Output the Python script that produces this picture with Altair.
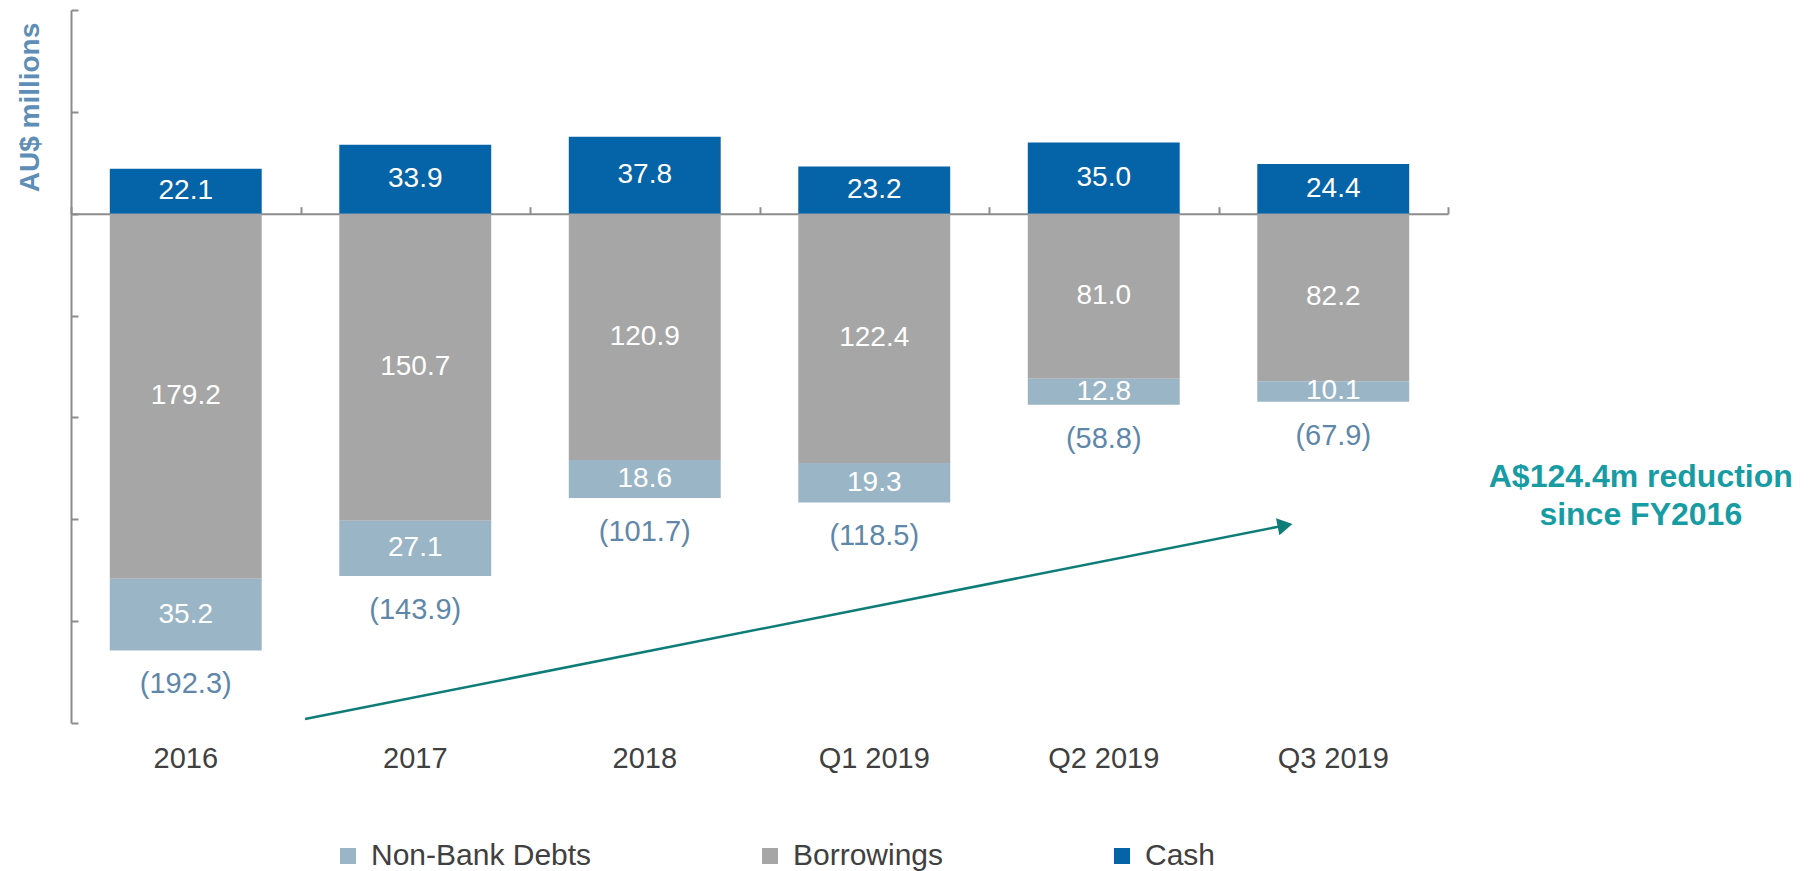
import altair as alt
import pandas as pd

categories = ["2016", "2017", "2018", "Q1 2019", "Q2 2019", "Q3 2019"]
cash = [22.1, 33.9, 37.8, 23.2, 35.0, 24.4]
borrowings = [179.2, 150.7, 120.9, 122.4, 81.0, 82.2]
non_bank = [35.2, 27.1, 18.6, 19.3, 12.8, 10.1]
net_debt = [192.3, 143.9, 101.7, 118.5, 58.8, 67.9]
series = ["Non-Bank Debts", "Borrowings", "Cash"]
colors = ["#9AB5C6", "#A6A6A6", "#0563A8"]
y_ticks = [-250, -200, -150, -100, -50, 0, 50, 100]

# annotation arrow: x in category slots from the left edge, y in AU$ millions
arrow_x = [1.02, 5.29]
arrow_y = [-248.0, -153.0]
note_lines = ["A$124.4m reduction", "since FY2016"]
note_x = [6.84, 6.84]
note_y = [-129.0, -148.0]

FONT = "Liberation Sans, Arial, sans-serif"
W, H = 1377, 713
Y_MIN, Y_MAX = -250, 100
zero_offset = -H * Y_MAX / (Y_MAX - Y_MIN)

rows = []
for i, c in enumerate(categories):
    rows.append({"category": c, "series": "Cash", "y0": 0.0, "y1": cash[i], "label": f"{cash[i]:.1f}"})
    rows.append({"category": c, "series": "Borrowings", "y0": 0.0, "y1": -borrowings[i], "label": f"{borrowings[i]:.1f}"})
    rows.append({"category": c, "series": "Non-Bank Debts", "y0": -borrowings[i],
                 "y1": -borrowings[i] - non_bank[i], "label": f"{non_bank[i]:.1f}"})
seg = pd.DataFrame(rows)
seg["mid"] = (seg["y0"] + seg["y1"]) / 2

tot = pd.DataFrame({
    "category": categories,
    "bottom": [-(b + n) for b, n in zip(borrowings, non_bank)],
    "label": [f"({v:.1f})" for v in net_debt],
})

arrow_df = pd.DataFrame({"x": [arrow_x[0]], "y": [arrow_y[0]], "x2": [arrow_x[1]], "y2": [arrow_y[1]]})
head_df = pd.DataFrame({"x": [arrow_x[1]], "y": [arrow_y[1]]})
note_df = pd.DataFrame({"x": note_x, "y": note_y, "text": note_lines})

yscale = alt.Scale(domain=[Y_MIN, Y_MAX], nice=False, zero=False)


def y_axis():
    # right-oriented axis moved onto the left edge so that its ticks point into the plot
    return alt.Axis(orient="right", offset=-W, title="AU$ millions", values=y_ticks, labels=False,
                    grid=False, domainColor="#8C8C8C", tickColor="#8C8C8C", domainWidth=2,
                    tickWidth=2, tickSize=7, titleAngle=270, titleX=-41, titleY=97,
                    titleFont=FONT, titleFontSize=28, titleFontWeight="bold",
                    titleColor="#5E8DB5", titleAlign="center", titleBaseline="middle")


def band():
    return alt.Scale(domain=categories, paddingInner=0, paddingOuter=0)


qscale = alt.Scale(domain=[0, 6], nice=False, zero=False)

bars = alt.Chart(seg).mark_bar(width=alt.RelativeBandSize(0.662)).encode(
    x=alt.X("category:N", scale=band(), sort=categories,
            axis=alt.Axis(orient="bottom", title=None, domain=False, ticks=False, labelAngle=0,
                          labelFont=FONT, labelFontSize=29, labelColor="#404040", labelPadding=21)),
    y=alt.Y("y0:Q", scale=yscale, axis=y_axis()),
    y2="y1:Q",
    color=alt.Color("series:N", scale=alt.Scale(domain=series, range=colors),
                    legend=alt.Legend(orient="none", legendX=262, legendY=831, direction="horizontal",
                                      title=None, symbolType="square", symbolSize=256,
                                      symbolStrokeWidth=0, symbolOpacity=1, labelFont=FONT,
                                      labelFontSize=30, labelColor="#404040", columnPadding=163,
                                      labelOffset=8, labelLimit=0)),
)

seg_text = alt.Chart(seg).mark_text(font=FONT, fontSize=28, color="white", baseline="middle").encode(
    x=alt.X("category:N", scale=band(), sort=categories, axis=None),
    y=alt.Y("mid:Q", scale=yscale, axis=y_axis()),
    text="label:N",
)

tot_text = alt.Chart(tot).mark_text(font=FONT, fontSize=29, color="#5F87AA", baseline="middle", dy=34).encode(
    x=alt.X("category:N", scale=band(), sort=categories,
            axis=alt.Axis(orient="top", offset=zero_offset, title=None, labels=False, domain=True,
                          ticks=True, tickBand="extent", tickSize=7, domainColor="#8C8C8C",
                          tickColor="#8C8C8C", domainWidth=2, tickWidth=2, grid=False)),
    y=alt.Y("bottom:Q", scale=yscale, axis=y_axis()),
    text="label:N",
)

arrow = alt.Chart(arrow_df).mark_rule(color="#0E7C77", strokeWidth=2.5).encode(
    x=alt.X("x:Q", scale=qscale, axis=None),
    x2="x2:Q",
    y=alt.Y("y:Q", scale=yscale, axis=y_axis()),
    y2="y2:Q",
)

head = alt.Chart(head_df).mark_point(shape="triangle-right", filled=True, size=300, angle=348.8,
                                     color="#0E7C77", opacity=1).encode(
    x=alt.X("x:Q", scale=qscale, axis=None),
    y=alt.Y("y:Q", scale=yscale, axis=y_axis()),
)

note = alt.Chart(note_df).mark_text(font=FONT, fontSize=32, fontWeight="bold", color="#179CA4",
                                    align="center", baseline="middle").encode(
    x=alt.X("x:Q", scale=qscale, axis=None),
    y=alt.Y("y:Q", scale=yscale, axis=y_axis()),
    text="text:N",
)

chart = alt.layer(bars, seg_text, tot_text, arrow, head, note).resolve_scale(
    x="independent"
).properties(
    width=W, height=H, padding={"left": 7, "top": 1, "right": 5, "bottom": 0}
).configure_view(stroke=None)

chart.save("out.html", embed_options={"renderer": "svg", "actions": False})
